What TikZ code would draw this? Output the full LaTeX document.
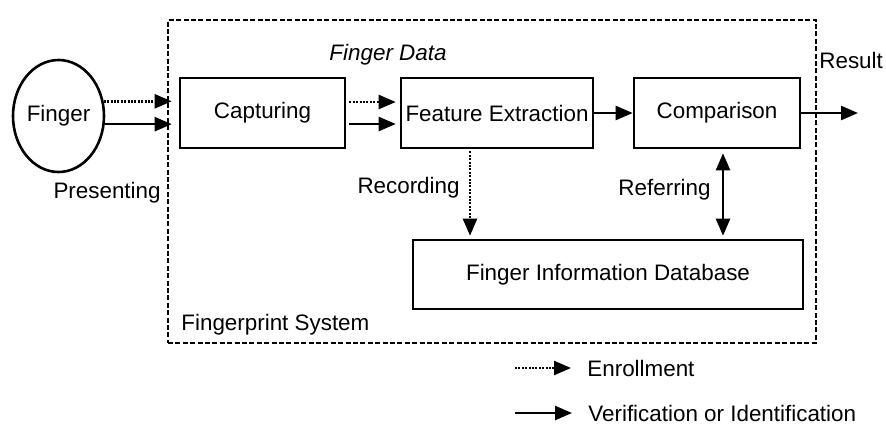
\documentclass[tikz,border=0pt]{standalone}
\usepackage{fontspec}
\setmainfont{Liberation Sans}
\usetikzlibrary{positioning, arrows.meta, shapes.geometric}

\begin{document}
\begin{tikzpicture}[
    x=0.5pt, y=-0.5pt,
    font=\fontsize{11.2}{13}\selectfont,
    blk/.style={draw, line width=1.3pt, minimum height=35pt, inner sep=0pt},
    lbl/.style={inner sep=0pt},
    verif/.style={-{Triangle[length=8.5pt, width=7pt]}, line width=1.2pt},
    enroll/.style={verif, dash pattern=on 1pt off 0.7pt},
    twoway/.style={{Triangle[length=8.5pt, width=7pt]}-{Triangle[length=8.5pt, width=7pt]}, line width=1.2pt}
]
\useasboundingbox (0,0) rectangle (886,424);

% System frame and its caption
\node[draw, line width=1.2pt, dash pattern=on 2.5pt off 1.2pt, minimum width=324pt, minimum height=161.5pt, inner sep=0pt] (sys) at (492,181.5) {};
\node[lbl, anchor=west] (sysname) at (181,325) {Fingerprint System};

% The finger and the processing blocks
\node[ellipse, draw, line width=1.3pt, minimum width=45.5pt, minimum height=56pt, inner sep=0pt] (finger) at (58.5,116) {Finger};
\node[blk, minimum width=82.5pt] (capture) at (262.5,113) {Capturing};
\node[blk, minimum width=96pt] (feature) at (497,113) {Feature Extraction};
\node[blk, minimum width=83pt] (compare) at (717,113) {Comparison};
\node[blk, minimum width=195pt, minimum height=34.5pt] (database) at (608,274.5) {Finger Information Database};

% Presenting: finger to capturing
\draw[enroll, shorten >=3.5pt] (finger.18) -- (finger.18 -| capture.west);
\draw[verif, shorten >=3.5pt] (finger.-10) -- (finger.-10 -| capture.west);
\node[lbl, anchor=east] (present) at (161,193) {Presenting};

% Finger data: capturing to feature extraction
\draw[enroll, shorten <=1.5pt, shorten >=2pt] ([yshift=5.5pt]capture.east) -- ([yshift=5.5pt]feature.west);
\draw[verif, shorten <=1.5pt, shorten >=2pt] ([yshift=-5.5pt]capture.east) -- ([yshift=-5.5pt]feature.west);
\node[lbl, font=\fontsize{11.2}{13}\selectfont\itshape] (data) at (388,55) {Finger Data};

% Feature extraction to comparison, and the result
\draw[verif] (feature) -- (compare);
\coordinate (out) at (858,113);
\draw[verif] (compare) -- (out);
\node[lbl, anchor=west] (result) at (819,60) {Result};

% Recording and referring with the database
\coordinate (rec) at (470,0);
\draw[enroll, shorten <=1pt, shorten >=1.5pt] (rec |- feature.south) -- (rec |- database.north);
\node[lbl, anchor=east] (record) at (460,188) {Recording};
\coordinate (ref) at (723,0);
\draw[twoway, shorten <=2pt, shorten >=1.5pt] (ref |- compare.south) -- (ref |- database.north);
\node[lbl, anchor=east] (refer) at (711,190) {Referring};

% Legend
\node[lbl, anchor=west] (enr-text) at (587,368) {Enrollment};
\coordinate (enr-from) at (515,368);
\draw[enroll, shorten >=8pt] (enr-from) -- (enr-text.west);
\node[lbl, anchor=west] (ver-text) at (588,413) {Verification or Identification};
\coordinate (ver-from) at (515,413);
\draw[verif, shorten >=8pt] (ver-from) -- (ver-text.west);

\end{tikzpicture}
\end{document}
